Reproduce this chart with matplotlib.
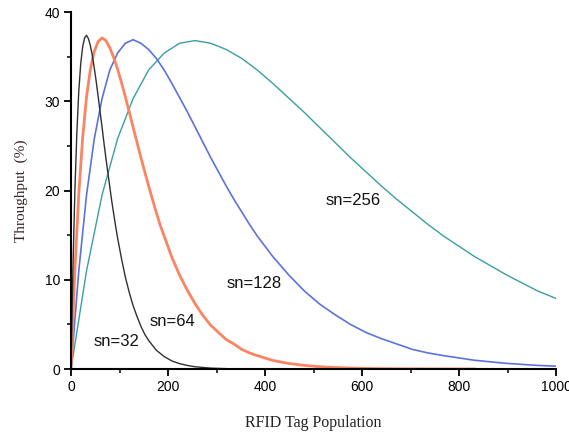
import numpy as np
import matplotlib.pyplot as plt
from matplotlib.ticker import MultipleLocator

# throughput (%) vs RFID tag population
N_32 = [0, 4, 8, 12, 16, 20, 24, 28, 32, 36, 40, 44, 48, 52, 56, 60, 64,
        68, 72, 76, 80, 84, 88, 92, 96, 104, 112, 120, 128, 136, 144, 152,
        160, 176, 192, 208, 224, 240, 256, 288, 320]
T_32 = [0, 11.4, 20.0, 26.4, 31.1, 34.2, 36.1, 37.1, 37.4, 37.0, 36.2, 35.1,
        33.7, 32.2, 30.5, 28.8, 27.1, 25.3, 23.6, 22.0, 20.4, 18.8, 17.4,
        16.0, 14.7, 12.4, 10.3, 8.6, 7.1, 5.9, 4.8, 3.9, 3.2, 2.1, 1.4, 0.9,
        0.6, 0.4, 0.25, 0.1, 0.04]

N_64 = [0, 8, 16, 24, 32, 40, 48, 56, 64, 72, 80, 88, 96, 104, 112, 120,
        128, 136, 144, 152, 160, 168, 176, 184, 192, 208, 224, 240, 256, 272,
        288, 304, 320, 336, 352, 368, 384, 416, 448, 480, 512, 544, 576, 608,
        640, 704, 768, 832]
T_64 = [0, 11.1, 19.6, 25.9, 30.5, 33.6, 35.6, 36.7, 37.1, 36.8, 36.0, 34.9,
        33.6, 32.1, 30.5, 28.8, 27.1, 25.4, 23.7, 22.1, 20.5, 19.0, 17.5,
        16.1, 14.9, 12.5, 10.5, 8.8, 7.3, 6.0, 4.9, 4.1, 3.3, 2.8, 2.2, 1.8,
        1.5, 0.96, 0.63, 0.41, 0.26, 0.17, 0.11, 0.07, 0.04, 0.02, 0.01, 0.0]

N_128 = [0, 16, 32, 48, 64, 80, 96, 112, 128, 144, 160, 176, 192, 208, 224,
         240, 256, 272, 288, 304, 320, 336, 352, 368, 384, 416, 448, 480,
         512, 544, 576, 608, 640, 672, 704, 736, 768, 832, 896, 960, 1000]
T_128 = [0, 11.0, 19.5, 25.8, 30.3, 33.5, 35.4, 36.5, 36.9, 36.5, 35.8, 34.8,
         33.5, 32.0, 30.4, 28.8, 27.1, 25.4, 23.7, 22.1, 20.5, 19.0, 17.6,
         16.2, 14.9, 12.6, 10.6, 8.8, 7.3, 6.1, 5.0, 4.1, 3.4, 2.8, 2.2, 1.8,
         1.5, 0.98, 0.64, 0.41, 0.32]

N_256 = [0, 32, 64, 96, 128, 160, 192, 224, 256, 288, 320, 352, 384, 416,
         448, 480, 512, 544, 576, 608, 640, 672, 704, 736, 768, 832, 896, 960,
         1000]
T_256 = [0, 11.0, 19.5, 25.8, 30.3, 33.5, 35.4, 36.5, 36.8, 36.5, 35.8, 34.8,
         33.5, 32.0, 30.4, 28.8, 27.1, 25.4, 23.7, 22.1, 20.5, 19.0, 17.6,
         16.2, 14.9, 12.6, 10.6, 8.8, 7.9]

LABELS = ['sn=32', 'sn=64', 'sn=128', 'sn=256']
LABEL_POS = [(93, 3.1), (210, 5.3), (378, 9.6), (581, 18.9)]

fig = plt.figure(figsize=(5.69, 4.32), dpi=100)
ax = fig.add_axes([0.1248, 0.1458, 0.8524, 0.8264])

ax.plot(N_256, T_256, color='#3a9ea4', lw=1.0)
ax.plot(N_128, T_128, color='#5b73dc', lw=1.2)
ax.plot(N_64, T_64, color='#fb8462', lw=2.0)
ax.plot(N_32, T_32, color='#303030', lw=1.0)

for txt, (x, y) in zip(LABELS, LABEL_POS):
    ax.text(x, y, txt, ha='center', va='center', fontsize=12,
            family='Liberation Sans', color='#111111')

ax.set_xlim(0, 1000)
ax.set_ylim(0, 40)
ax.xaxis.set_major_locator(MultipleLocator(200))
ax.xaxis.set_minor_locator(MultipleLocator(100))
ax.yaxis.set_major_locator(MultipleLocator(10))
ax.yaxis.set_minor_locator(MultipleLocator(5))
for s in ['top', 'right']:
    ax.spines[s].set_visible(False)
for s in ['left', 'bottom']:
    ax.spines[s].set_linewidth(1.5)
ax.tick_params(which='major', direction='out', length=5, width=1.3,
               labelsize=10, pad=3)
ax.tick_params(which='minor', direction='out', length=3, width=1.1)
for lab in ax.get_xticklabels() + ax.get_yticklabels():
    lab.set_family('Liberation Sans')

ax.set_xlabel('RFID Tag Population', family='Liberation Serif', fontsize=11.5,
              labelpad=15, color='#222222')
ax.set_ylabel('Throughput  (%)', family='Liberation Serif', fontsize=11,
              labelpad=12, color='#3a2626')

fig.savefig('out.png', dpi=100, facecolor='white')
